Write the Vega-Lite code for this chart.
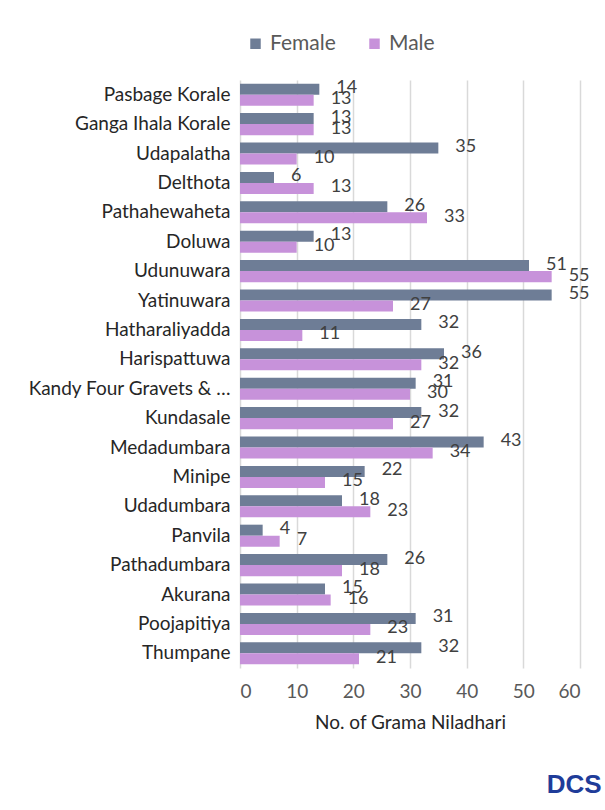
{
  "$schema": "https://vega.github.io/schema/vega-lite/v6.json",
  "autosize": {"type": "none"},
  "width": 340,
  "height": 588,
  "padding": {"left": 240, "top": 80, "right": 25, "bottom": 142},
  "background": "white",
  "config": {"view": {"stroke": null}, "font": "Lato"},
  "title": {"text": "DCS", "orient": "bottom", "anchor": "end", "color": "#1f3c99", "fontSize": 26, "fontWeight": "bold", "font": "Liberation Sans", "offset": 40, "dx": 12},
  "data": {"values": [
    {"District": "Pasbage Korale", "Sex": "Female", "value": 14},
    {"District": "Pasbage Korale", "Sex": "Male", "value": 13},
    {"District": "Ganga Ihala Korale", "Sex": "Female", "value": 13},
    {"District": "Ganga Ihala Korale", "Sex": "Male", "value": 13},
    {"District": "Udapalatha", "Sex": "Female", "value": 35},
    {"District": "Udapalatha", "Sex": "Male", "value": 10},
    {"District": "Delthota", "Sex": "Female", "value": 6},
    {"District": "Delthota", "Sex": "Male", "value": 13},
    {"District": "Pathahewaheta", "Sex": "Female", "value": 26},
    {"District": "Pathahewaheta", "Sex": "Male", "value": 33},
    {"District": "Doluwa", "Sex": "Female", "value": 13},
    {"District": "Doluwa", "Sex": "Male", "value": 10},
    {"District": "Udunuwara", "Sex": "Female", "value": 51},
    {"District": "Udunuwara", "Sex": "Male", "value": 55},
    {"District": "Yatinuwara", "Sex": "Female", "value": 55},
    {"District": "Yatinuwara", "Sex": "Male", "value": 27},
    {"District": "Hatharaliyadda", "Sex": "Female", "value": 32},
    {"District": "Hatharaliyadda", "Sex": "Male", "value": 11},
    {"District": "Harispattuwa", "Sex": "Female", "value": 36},
    {"District": "Harispattuwa", "Sex": "Male", "value": 32},
    {"District": "Kandy Four Gravets & Gangawata Korale", "Sex": "Female", "value": 31},
    {"District": "Kandy Four Gravets & Gangawata Korale", "Sex": "Male", "value": 30},
    {"District": "Kundasale", "Sex": "Female", "value": 32},
    {"District": "Kundasale", "Sex": "Male", "value": 27},
    {"District": "Medadumbara", "Sex": "Female", "value": 43},
    {"District": "Medadumbara", "Sex": "Male", "value": 34},
    {"District": "Minipe", "Sex": "Female", "value": 22},
    {"District": "Minipe", "Sex": "Male", "value": 15},
    {"District": "Udadumbara", "Sex": "Female", "value": 18},
    {"District": "Udadumbara", "Sex": "Male", "value": 23},
    {"District": "Panvila", "Sex": "Female", "value": 4},
    {"District": "Panvila", "Sex": "Male", "value": 7},
    {"District": "Pathadumbara", "Sex": "Female", "value": 26},
    {"District": "Pathadumbara", "Sex": "Male", "value": 18},
    {"District": "Akurana", "Sex": "Female", "value": 15},
    {"District": "Akurana", "Sex": "Male", "value": 16},
    {"District": "Poojapitiya", "Sex": "Female", "value": 31},
    {"District": "Poojapitiya", "Sex": "Male", "value": 23},
    {"District": "Thumpane", "Sex": "Female", "value": 32},
    {"District": "Thumpane", "Sex": "Male", "value": 21}
  ]},
  "encoding": {
    "y": {
      "field": "District", "type": "nominal", "sort": null,
      "scale": {"paddingInner": 0.25, "paddingOuter": 0.125},
      "axis": {"title": null, "domain": false, "ticks": false, "labelFontSize": 19, "labelColor": "#262626", "labelPadding": 10, "labelLimit": 215}
    },
    "yOffset": {"field": "Sex", "type": "nominal", "sort": ["Female", "Male"]},
    "x": {
      "field": "value", "type": "quantitative",
      "scale": {"domain": [0, 60], "nice": false},
      "axis": {"values": [0, 10, 20, 30, 40, 50, 60], "title": "No. of Grama Niladhari", "titleFontSize": 19, "titleFontWeight": "normal", "titleColor": "#262626", "titlePadding": 12, "labelFontSize": 19, "labelColor": "#595959", "labelPadding": 14, "domain": false, "ticks": false, "grid": true, "gridColor": "#d9d9d9", "gridWidth": 1.5}
    }
  },
  "layer": [
    {
      "mark": {"type": "bar"},
      "encoding": {
        "color": {
          "field": "Sex", "type": "nominal",
          "scale": {"domain": ["Female", "Male"], "range": ["#6e7d96", "#c792da"]},
          "legend": {"title": null, "orient": "none", "legendX": 5, "legendY": -47, "direction": "horizontal", "symbolType": "square", "symbolSize": 110, "symbolStrokeWidth": 0, "labelFontSize": 21, "labelColor": "#595959", "labelOffset": 4, "columnPadding": 28}
        }
      }
    },
    {
      "mark": {"type": "text", "align": "left", "baseline": "middle", "dx": 17, "dy": -1, "fontSize": 18, "color": "#404040"},
      "encoding": {"text": {"field": "value", "type": "quantitative"}}
    }
  ]
}
